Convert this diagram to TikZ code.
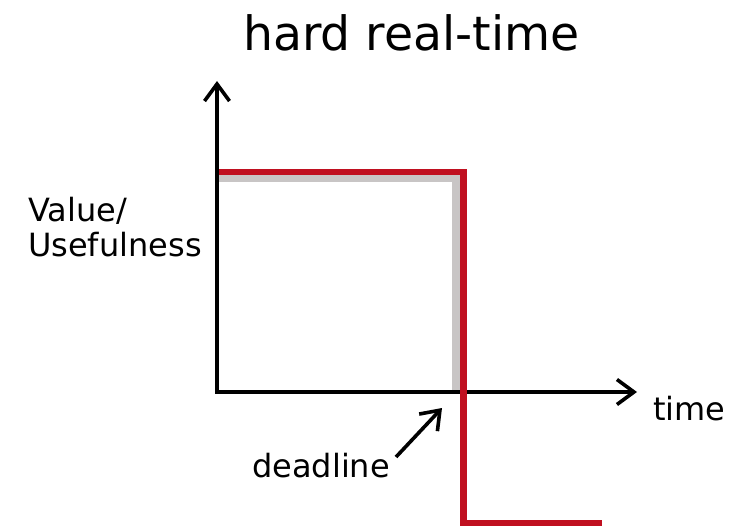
\documentclass[tikz,border=0pt]{standalone}
\usepackage{fontspec}
\setmainfont{DejaVu Sans}
\usetikzlibrary{arrows.meta}
\definecolor{hardred}{RGB}{192,16,32}
\definecolor{softgray}{RGB}{200,197,197}
\tikzset{
  axis/.style={line width=3.6pt,-{Straight Barb[length=17pt,width=25pt,line width=3.6pt]}},
  redline/.style={hardred,line width=6.5pt},
  grayline/.style={softgray,line width=7.5pt},
  lbl/.style={font=\fontsize{32}{35}\selectfont,inner sep=0pt,anchor=base west,align=left},
}
\begin{document}
\begin{tikzpicture}[x=1pt,y=-1pt]
\useasboundingbox (0,0) rectangle (749,526);
\coordinate (O) at (217,392);
\coordinate (ytip) at (217,81);
\coordinate (xtip) at (637,392);
% gray curve
\coordinate (g1) at (217,178.5);
\coordinate (g2) at (456,178.5);
\coordinate (g3) at (456,392);
\draw[grayline] (g1) -- (g2) -- (g3);
% axes
\draw[axis] ([yshift=-1.8pt]O) -- (ytip);
\draw[axis] ([xshift=-1.8pt]O) -- (xtip);
% red curve
\coordinate (r1) at (219,172);
\coordinate (r2) at (463.5,172);
\coordinate (r3) at (463.5,523);
\coordinate (r4) at (601.5,523);
\draw[redline,line join=miter] (r1) -- (r2) -- (r3) -- (r4);
% texts
\node[font=\fontsize{47.3}{50}\selectfont,inner sep=0pt,anchor=base west] (title) at (243,51) {hard real-time};
\node[lbl] (ylabel) at (28,257) {Value/\\Usefulness};
\node[lbl] (xlabel) at (653,420) {time};
\node[lbl] (dl) at (252,477) {deadline};
\coordinate (dtail) at (396,457);
\coordinate (dtip) at (442,408);
\draw[axis] (dtail) -- (dtip);
\end{tikzpicture}
\end{document}
